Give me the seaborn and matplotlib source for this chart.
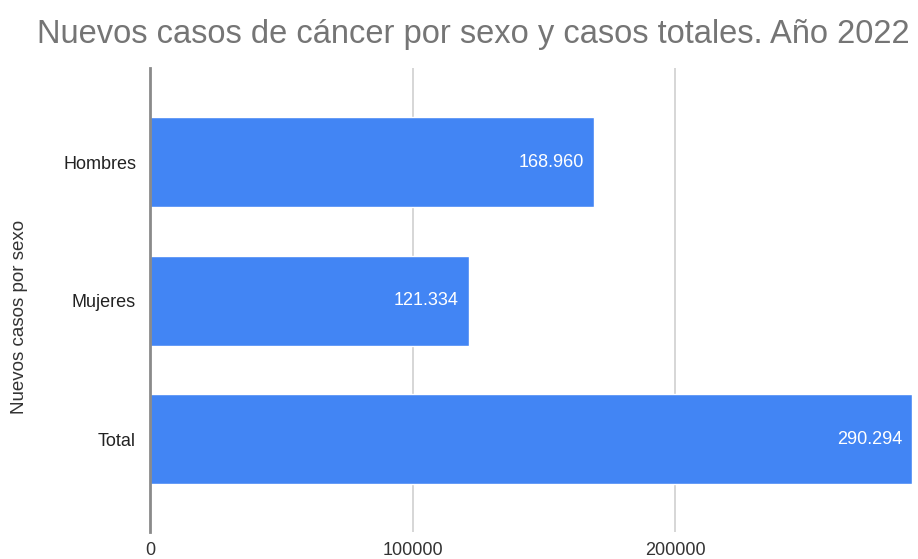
import matplotlib
matplotlib.use("Agg")
import matplotlib.pyplot as plt
import seaborn as sns
import pandas as pd

# Nuevos casos de cáncer, año 2022
categorias = ["Hombres", "Mujeres", "Total"]
casos = [168960, 121334, 290294]
etiquetas_valor = ["168.960", "121.334", "290.294"]
ticks_x = [0, 100000, 200000]

titulo = "Nuevos casos de cáncer por sexo y casos totales. Año 2022"
etiqueta_y = "Nuevos casos por sexo"

sns.set_theme(style="white")
plt.rcParams["font.family"] = ["Liberation Sans", "DejaVu Sans"]

df = pd.DataFrame({"categoria": categorias, "casos": casos})

fig = plt.figure(figsize=(9.18, 5.59), dpi=100)
ax = fig.add_axes([0.1634, 0.0483, 0.8301, 0.8301])

sns.barplot(data=df, x="casos", y="categoria", color="#4285F4", saturation=1,
            width=0.65, ax=ax, zorder=3)

ax.set_xlim(0, max(casos))
ax.set_ylim(2.67, -0.68)
ax.set_xticks(ticks_x)
ax.set_xticklabels([str(t) for t in ticks_x])
ax.grid(axis="x", color="#d0d0d0", linewidth=1.2, zorder=0)
for s in ["top", "right", "bottom"]:
    ax.spines[s].set_visible(False)
ax.spines["left"].set_color("#8a8a8a")
ax.spines["left"].set_linewidth(2)
ax.spines["left"].set_zorder(4)

ax.tick_params(axis="x", length=0, colors="#333333", labelsize=13, pad=7)
ax.tick_params(axis="y", length=0, colors="#222222", labelsize=13, pad=10)
ax.set_xlabel("")
ax.set_ylabel("")

# Título del eje vertical, centrado junto a las categorías
fig.text(20 / 918, 1 - 317 / 559, etiqueta_y, rotation=90, ha="center",
         va="center", fontsize=13.5, color="#333333")

for i, (v, txt) in enumerate(zip(casos, etiquetas_valor)):
    ax.text(v - max(casos) * 0.013, i, txt, ha="right", va="center",
            color="white", fontsize=13, zorder=5)

fig.text(473 / 918, 1 - 35 / 559, titulo, ha="center", va="center",
         fontsize=23.5, color="#757575")

fig.savefig("out.png", dpi=100)
